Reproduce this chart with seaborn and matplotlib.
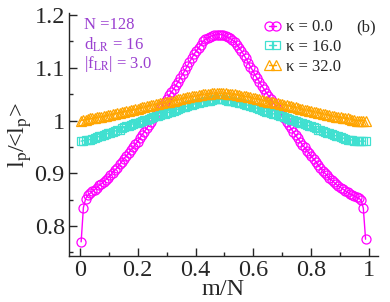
import numpy as np
import matplotlib
matplotlib.use("Agg")
import matplotlib.pyplot as plt
import seaborn as sns

# chain length and the three kappa values
N = 128
kappas = ["0.0", "16.0", "32.0"]

# l_p/<l_p> for kappa = 0.0 (m = 1..127)
lp_k0 = [0.770, 0.835, 0.852, 0.858, 0.862, 0.866, 0.869, 0.873, 0.877, 0.880,
         0.884, 0.888, 0.892, 0.896, 0.901, 0.906, 0.911, 0.917, 0.922, 0.928,
         0.933, 0.938, 0.944, 0.949, 0.955, 0.960, 0.967, 0.973, 0.979, 0.985,
         0.992, 0.998, 1.004, 1.010, 1.017, 1.023, 1.029, 1.035, 1.041, 1.048,
         1.054, 1.060, 1.067, 1.074, 1.081, 1.088, 1.095, 1.103, 1.111, 1.118,
         1.126, 1.132, 1.138, 1.144, 1.150, 1.154, 1.157, 1.159, 1.161, 1.162,
         1.163, 1.163,
         1.163, 1.162, 1.160, 1.158, 1.156, 1.153, 1.149, 1.144, 1.138, 1.132,
         1.125, 1.118, 1.110, 1.102, 1.095, 1.087, 1.080, 1.073, 1.066, 1.060,
         1.053, 1.047, 1.041, 1.035, 1.028, 1.022, 1.016, 1.010, 1.004, 0.997,
         0.991, 0.985, 0.978, 0.972, 0.966, 0.960, 0.954, 0.949, 0.943, 0.938,
         0.932, 0.927, 0.922, 0.916, 0.911, 0.905, 0.900, 0.896, 0.891, 0.887,
         0.883, 0.879, 0.876, 0.873, 0.870, 0.867, 0.864, 0.861, 0.859, 0.857,
         0.855, 0.853, 0.849, 0.834, 0.775]

# kappa = 16.0
lp_k16 = [0.961, 0.962, 0.963, 0.964, 0.964, 0.965, 0.967, 0.968, 0.970, 0.971,
          0.972, 0.974, 0.976, 0.977, 0.978, 0.980, 0.982, 0.983, 0.985, 0.987,
          0.989, 0.990, 0.992, 0.994, 0.995, 0.996, 0.998, 0.999, 1.001, 1.002,
          1.003, 1.005, 1.006, 1.008, 1.009, 1.010, 1.012, 1.013, 1.015, 1.016,
          1.017, 1.019, 1.020, 1.022, 1.023, 1.025, 1.026, 1.027, 1.029, 1.030,
          1.031, 1.033, 1.034, 1.035, 1.036, 1.037, 1.038, 1.038, 1.039, 1.040,
          1.040, 1.040,
          1.040, 1.040, 1.039, 1.038, 1.038, 1.037, 1.036, 1.035, 1.034, 1.033,
          1.031, 1.030, 1.029, 1.027, 1.026, 1.025, 1.023, 1.022, 1.020, 1.019,
          1.017, 1.016, 1.015, 1.013, 1.012, 1.010, 1.009, 1.008, 1.006, 1.005,
          1.003, 1.002, 1.001, 0.999, 0.998, 0.996, 0.995, 0.994, 0.992, 0.990,
          0.989, 0.987, 0.985, 0.983, 0.982, 0.980, 0.978, 0.977, 0.976, 0.974,
          0.972, 0.971, 0.970, 0.968, 0.967, 0.965, 0.964, 0.964, 0.963, 0.962,
          0.961, 0.961, 0.961, 0.961, 0.961]

# kappa = 32.0
lp_k32 = [1.000, 1.001, 1.002, 1.003, 1.004, 1.004, 1.005, 1.006, 1.007, 1.007,
          1.008, 1.009, 1.010, 1.011, 1.012, 1.013, 1.014, 1.015, 1.016, 1.017,
          1.018, 1.019, 1.020, 1.020, 1.021, 1.022, 1.024, 1.025, 1.026, 1.027,
          1.028, 1.029, 1.030, 1.031, 1.032, 1.033, 1.034, 1.035, 1.035, 1.036,
          1.037, 1.038, 1.039, 1.040, 1.041, 1.042, 1.043, 1.044, 1.045, 1.046,
          1.046, 1.047, 1.048, 1.049, 1.050, 1.050, 1.051, 1.051, 1.052, 1.052,
          1.052, 1.052,
          1.052, 1.052, 1.052, 1.051, 1.051, 1.050, 1.050, 1.049, 1.048, 1.047,
          1.046, 1.046, 1.045, 1.044, 1.043, 1.042, 1.041, 1.040, 1.039, 1.038,
          1.037, 1.036, 1.035, 1.035, 1.034, 1.033, 1.032, 1.031, 1.030, 1.029,
          1.028, 1.027, 1.026, 1.025, 1.024, 1.022, 1.021, 1.020, 1.020, 1.019,
          1.018, 1.017, 1.016, 1.015, 1.014, 1.013, 1.012, 1.011, 1.010, 1.009,
          1.008, 1.007, 1.007, 1.006, 1.005, 1.004, 1.004, 1.003, 1.002, 1.001,
          1.000, 1.000, 1.000, 1.000, 1.000]

sns.set_style("ticks")
plt.rcParams["font.family"] = ["Liberation Serif", "DejaVu Serif"]
plt.rcParams["mathtext.fontset"] = "stix"

fig = plt.figure(figsize=(3.9, 3.02), dpi=100)
ax = fig.add_axes([0.177, 0.152, 0.792, 0.805])

styles = [
    (lp_k0, "#FF00FF", "o", 6.5),
    (lp_k16, "#40E0D0", "s", 5.5),
    (lp_k32, "#FFA500", "^", 6.5),
]
for (vals, col, mk, ms), k in zip(styles, kappas):
    m = np.arange(1, len(vals) + 1)
    sns.lineplot(x=(m - 0.5) / N, y=vals, ax=ax, color=col, marker=mk,
                 markersize=ms, markerfacecolor="none", markeredgecolor=col,
                 markeredgewidth=0.9, linewidth=1.0, sort=False,
                 label="κ = " + k)

ax.set_xlim(-0.038, 1.031)
ax.set_ylim(0.743, 1.204)
ax.set_xticks([0, 0.2, 0.4, 0.6, 0.8, 1.0])
ax.set_xticklabels(["0", "0.2", "0.4", "0.6", "0.8", "1"])
ax.set_xticks(np.arange(0.1, 1.0, 0.2), minor=True)
ax.set_yticks([0.8, 0.9, 1.0, 1.1, 1.2])
ax.set_yticklabels(["0.8", "0.9", "1", "1.1", "1.2"])
ax.set_yticks([0.75, 0.85, 0.95, 1.05, 1.15], minor=True)
ax.tick_params(which="both", direction="in", labelsize=17.5, width=1.0)
ax.tick_params(which="major", length=6, pad=3)
ax.tick_params(which="minor", length=3)
sns.despine(ax=ax)
for s in ["left", "bottom"]:
    ax.spines[s].set_linewidth(1.0)

ax.set_xlabel("m/N", fontsize=17.5, labelpad=-1.5)
ax.set_ylabel(r"l$_{\rm p}$/<l$_{\rm p}$>", fontsize=17.5, labelpad=0)

txt_col = "#9A3FD0"
ax.text(0.05, 0.985, "N =128", transform=ax.transAxes, color=txt_col,
        fontsize=12, va="top")
ax.text(0.05, 0.905, r"d$_{\rm LR}$ = 16", transform=ax.transAxes,
        color=txt_col, fontsize=12, va="top")
ax.text(0.05, 0.83, r"|f$_{\rm LR}$| = 3.0", transform=ax.transAxes,
        color=txt_col, fontsize=12, va="top")
ax.text(0.93, 0.975, "(b)", transform=ax.transAxes, fontsize=12, va="top")

ax.legend(loc="upper right", bbox_to_anchor=(0.915, 1.015), frameon=False,
          numpoints=2, handlelength=1.0, handletextpad=0.35, labelspacing=0.22,
          fontsize=12, borderaxespad=0.2)

fig.savefig("out.png", dpi=100)
